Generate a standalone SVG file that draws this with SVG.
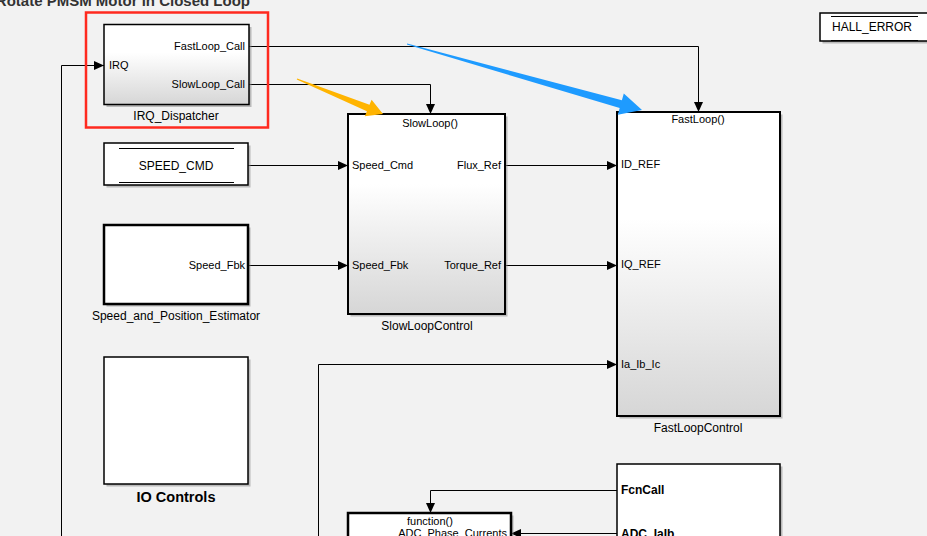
<svg xmlns="http://www.w3.org/2000/svg" width="927" height="536" viewBox="0 0 927 536">
<style>
text{font-family:"Liberation Sans",Arial,sans-serif;fill:#000}
.port{font-size:11px}
.lbl{font-size:12px;text-anchor:middle}
.blk{stroke:#000;stroke-width:1.5}
.thick{stroke:#000;stroke-width:2.5}
.shadow{fill:#8c8c8c;opacity:0.55}
.wire{fill:none;stroke:#000;stroke-width:1}
.bold{font-weight:bold}
</style>
<defs>
<linearGradient id="grad" x1="0" y1="0" x2="0" y2="1">
<stop offset="0" stop-color="#ffffff"/>
<stop offset="0.35" stop-color="#ffffff"/>
<stop offset="1" stop-color="#d6d6d6"/>
</linearGradient>
<marker id="arr" markerUnits="userSpaceOnUse" markerWidth="10" markerHeight="10" refX="10" refY="5" orient="auto">
<path d="M0,0.5 L10,5 L0,9.5 z" fill="#000"/>
</marker>
</defs>
<rect x="0" y="0" width="927" height="536" fill="#f2f2f2"/>
<text x="250" y="6" font-size="15" font-weight="bold" text-anchor="end" style="fill:#333">Rotate PMSM Motor in Closed Loop</text>

<g id="connectors">
<polyline class="wire" points="61.5,536 61.5,65.5 104,65.5" marker-end="url(#arr)"/>
<polyline class="wire" points="249,46.5 698.5,46.5 698.5,112" marker-end="url(#arr)"/>
<polyline class="wire" points="249,84.5 430.5,84.5 430.5,114" marker-end="url(#arr)"/>
<polyline class="wire" points="248,165.5 348,165.5" marker-end="url(#arr)"/>
<polyline class="wire" points="248,265.5 348,265.5" marker-end="url(#arr)"/>
<polyline class="wire" points="505,165.5 617,165.5" marker-end="url(#arr)"/>
<polyline class="wire" points="505,265.5 617,265.5" marker-end="url(#arr)"/>
<polyline class="wire" points="318.5,536 318.5,364.5 617,364.5" marker-end="url(#arr)"/>
<polyline class="wire" points="617,490.5 430.5,490.5 430.5,513" marker-end="url(#arr)"/>
<polyline class="wire" points="617,533.5 511,533.5" marker-end="url(#arr)"/>
</g>

<g id="IRQ_Dispatcher">
<rect x="106.5" y="27" width="145" height="80" class="shadow"/>
<rect x="104" y="24.5" width="145" height="80" fill="url(#grad)" class="blk"/>
<text x="109" y="69" class="port">IRQ</text>
<text x="245" y="50" class="port" text-anchor="end">FastLoop_Call</text>
<text x="245" y="88" class="port" text-anchor="end">SlowLoop_Call</text>
<text x="176" y="120" class="lbl">IRQ_Dispatcher</text>
</g>

<g id="highlight">
<rect x="86" y="12.5" width="182" height="115" fill="none" stroke="#ff2a1f" stroke-width="2.5"/>
</g>

<g id="SPEED_CMD">
<rect x="106.5" y="145.5" width="144" height="42" class="shadow"/>
<rect x="104" y="143" width="144" height="42" fill="#fff" class="blk"/>
<line x1="119" y1="148.5" x2="234" y2="148.5" stroke="#000" stroke-width="1"/>
<line x1="119" y1="182.5" x2="234" y2="182.5" stroke="#000" stroke-width="1"/>
<text x="176" y="169.5" class="lbl">SPEED_CMD</text>
</g>

<g id="Speed_and_Position_Estimator">
<rect x="106.5" y="227.5" width="144" height="79" class="shadow"/>
<rect x="104" y="225" width="144" height="79" fill="#fff" class="thick"/>
<text x="245" y="269" class="port" text-anchor="end">Speed_Fbk</text>
<text x="176" y="320" class="lbl">Speed_and_Position_Estimator</text>
</g>

<g id="IO_Controls">
<rect x="106.5" y="359.5" width="144" height="127" class="shadow"/>
<rect x="104" y="357" width="144" height="127" fill="#fff" class="blk"/>
<text x="176" y="502" font-size="14.5" font-weight="bold" text-anchor="middle">IO Controls</text>
</g>

<g id="SlowLoopControl">
<rect x="350.5" y="116.5" width="157" height="200" class="shadow"/>
<rect x="348" y="114" width="157" height="200" fill="url(#grad)" class="thick" style="stroke-width:2"/>
<text x="430" y="127" class="port" text-anchor="middle">SlowLoop()</text>
<text x="352" y="169" class="port">Speed_Cmd</text>
<text x="352" y="269" class="port">Speed_Fbk</text>
<text x="501" y="169" class="port" text-anchor="end">Flux_Ref</text>
<text x="501" y="269" class="port" text-anchor="end">Torque_Ref</text>
<text x="427" y="330" class="lbl">SlowLoopControl</text>
</g>

<g id="FastLoopControl">
<rect x="619.5" y="114.5" width="163" height="304" class="shadow"/>
<rect x="617" y="112" width="163" height="304" fill="url(#grad)" class="thick" style="stroke-width:2"/>
<text x="698" y="123" class="port" text-anchor="middle">FastLoop()</text>
<text x="621" y="168" class="port">ID_REF</text>
<text x="621" y="268" class="port">IQ_REF</text>
<text x="621" y="368" class="port">Ia_Ib_Ic</text>
<text x="698" y="432" class="lbl">FastLoopControl</text>
</g>

<g id="HALL_ERROR">
<rect x="822.5" y="15.5" width="110" height="28" class="shadow"/>
<rect x="820" y="13" width="110" height="28" fill="#fff" class="blk"/>
<line x1="831" y1="16.5" x2="918" y2="16.5" stroke="#000" stroke-width="1"/>
<line x1="831" y1="40.5" x2="918" y2="40.5" stroke="#000" stroke-width="1"/>
<text x="832" y="31" font-size="12">HALL_ERROR</text>
</g>

<g id="Scheduler">
<rect x="619.5" y="466.5" width="163" height="80" class="shadow"/>
<rect x="617" y="464" width="163" height="80" fill="#fff" class="blk"/>
<text x="621" y="494" font-size="12" class="bold">FcnCall</text>
<text x="621" y="538" font-size="12" class="bold">ADC_IaIb</text>
</g>

<g id="ADC_Phase_Currents">
<rect x="350.5" y="515.5" width="163" height="40" class="shadow"/>
<rect x="348" y="513" width="163" height="40" fill="#fff" class="thick"/>
<text x="430" y="525" class="port" text-anchor="middle">function()</text>
<text x="507" y="537" class="port" text-anchor="end">ADC_Phase_Currents</text>
</g>

<g id="annotations">
<polygon points="297.2,78.5 369.5,104.8 371.6,99.7 383,114 364.8,116.3 366.9,111.2 296.8,79.5" fill="#ffb400"/>
<polygon points="407.1,43.5 621.9,100.3 623.8,93.5 642,110 617.8,114.7 619.7,108 406.9,44.5" fill="#1e9bff"/>
</g>
</svg>
